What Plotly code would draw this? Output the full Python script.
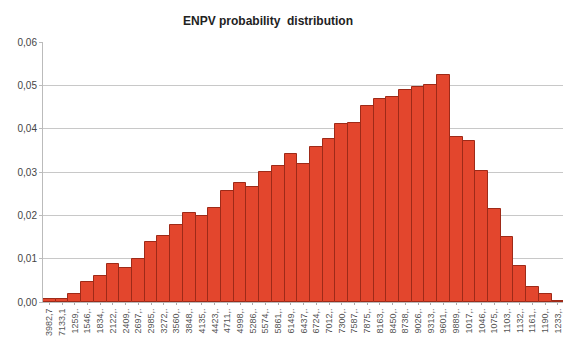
import plotly.graph_objects as go

# bin labels as shown on the x axis (Excel truncates them)
bin_labels = [
    "3982,7", "7133,1", "1259,.", "1546,.", "1834,.", "2122,.", "2409,.", "2697,.",
    "2985,.", "3272,.", "3560,.", "3848,.", "4135,.", "4423,.", "4711,.", "4998,.",
    "5286,.", "5574,.", "5861,.", "6149,.", "6437,.", "6724,.", "7012,.", "7300,.",
    "7587,.", "7875,.", "8163,.", "8450,.", "8738,.", "9026,.", "9313,.", "9601,.",
    "9889,.", "1017,.", "1046,.", "1075,.", "1103,.", "1132,.", "1161,.", "1190,.",
    "1233,.",
]

# probability per bin
probability = [
    0.0007, 0.0007, 0.0018, 0.0047, 0.0060, 0.0087, 0.0078, 0.0099,
    0.0138, 0.0152, 0.0178, 0.0205, 0.0199, 0.0216, 0.0256, 0.0274,
    0.0266, 0.0300, 0.0314, 0.0341, 0.0318, 0.0357, 0.0377, 0.0410,
    0.0414, 0.0452, 0.0468, 0.0474, 0.0490, 0.0497, 0.0501, 0.0525,
    0.0380, 0.0372, 0.0303, 0.0215, 0.0151, 0.0082, 0.0034, 0.0018,
    0.0003,
]

fig = go.Figure()
fig.add_trace(go.Bar(
    x=bin_labels,
    y=probability,
    marker=dict(color="#e3462d", line=dict(color="#9e2a18", width=1)),
))

fig.update_layout(
    width=563,
    height=347,
    margin=dict(l=43, r=0, t=42, b=45),
    paper_bgcolor="white",
    plot_bgcolor="white",
    separators=", ",
    bargap=0,
    showlegend=False,
    title=dict(
        text="<b>ENPV probability  distribution</b>",
        x=0.476, xanchor="center", y=0.94, yanchor="middle",
        font=dict(family="Liberation Sans, Arial", size=12, color="#222"),
    ),
    font=dict(family="Liberation Sans, Arial", color="#444"),
)

# the last bin runs past the right edge, as in the original
fig.update_xaxes(
    type="category",
    range=[-0.5, 40.4],
    automargin=False,
    tickangle=-90,
    tickfont=dict(size=9, color="#555"),
    showgrid=False,
    showline=True,
    linecolor="#bbbbbb",
    ticks="outside",
    ticklen=2,
    tickcolor="#aaaaaa",
)

fig.update_yaxes(
    range=[0, 0.06],
    dtick=0.01,
    tickformat=".2f",
    automargin=False,
    tickfont=dict(size=10, color="#444"),
    showgrid=True,
    gridcolor="#c8c8c8",
    showline=True,
    linecolor="#bbbbbb",
    zeroline=False,
    ticks="outside",
    ticklen=3,
    tickcolor="#bbbbbb",
)

fig.write_html(
    "out.html",
    config={"displayModeBar": False},
    post_script="document.body.style.margin='0';",
)
